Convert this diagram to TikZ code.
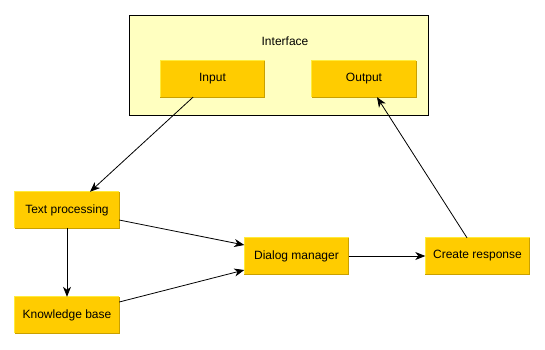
\documentclass[tikz,border=0pt]{standalone}
\usepackage{fontspec}
\setmainfont{Liberation Sans}
\usetikzlibrary{arrows.meta}
\definecolor{boxfill}{HTML}{FFCC00}
\definecolor{boxlight}{HTML}{FFEB3B}
\definecolor{boxdark}{HTML}{C9A000}
\definecolor{panelfill}{HTML}{FFFFC0}
\tikzset{
  panel/.style={draw=black, line width=0.9pt, fill=panelfill, minimum width=299pt, minimum height=100pt, inner sep=0pt},
  block/.style={fill=boxfill, minimum width=104pt, minimum height=36pt, inner sep=0pt, font=\fontsize{12}{14}\selectfont},
  caption/.style={inner sep=0pt, font=\fontsize{12}{14}\selectfont},
  arr/.style={draw=black, line width=0.8pt, -{Stealth[length=10pt,width=8pt,inset=3pt]}},
  edgelight/.style={draw=boxlight, line width=0.8pt},
  edgedark/.style={draw=boxdark, line width=0.8pt}
}
\begin{document}
\begin{tikzpicture}[x=1pt, y=-1pt]
  \useasboundingbox[fill=white] (0,0) rectangle (545,349);

  % interface panel
  \node[panel] (iface) at (278.5,65) {};
  \node[caption] (ifacelbl) at (285,41) {Interface};
  \node[block] (inp) at (212.5,79) {Input};
  \node[block] (out) at (364,79) {Output};

  % processing blocks
  \node[block] (tp) at (67,210) {Text processing};
  \node[block] (kb) at (67,315) {Knowledge base};
  \node[block] (dm) at (296.5,256) {Dialog manager};
  \node[block] (cr) at (477.5,256) {Create response};

  % bevelled block edges
  \foreach \n in {inp,out,tp,kb,dm,cr} {
    \draw[edgelight] (\n.south west) -- (\n.north west) -- (\n.north east);
    \draw[edgedark] (\n.north east) -- (\n.south east) -- (\n.south west);
  }

  % connectors
  \draw[arr] ([xshift=-19.5pt]inp.south) -- ([xshift=23pt]tp.north);
  \draw[arr] (tp.south) -- (kb.north);
  \draw[arr] ([yshift=-10pt]tp.east) -- ([yshift=11pt]dm.west);
  \draw[arr] ([yshift=13pt]kb.east) -- ([yshift=-14pt]dm.west);
  \draw[arr] (dm.east) -- (cr.west);
  \draw[arr] ([xshift=-10.5pt]cr.north) -- ([xshift=13pt]out.south);
\end{tikzpicture}
\end{document}
